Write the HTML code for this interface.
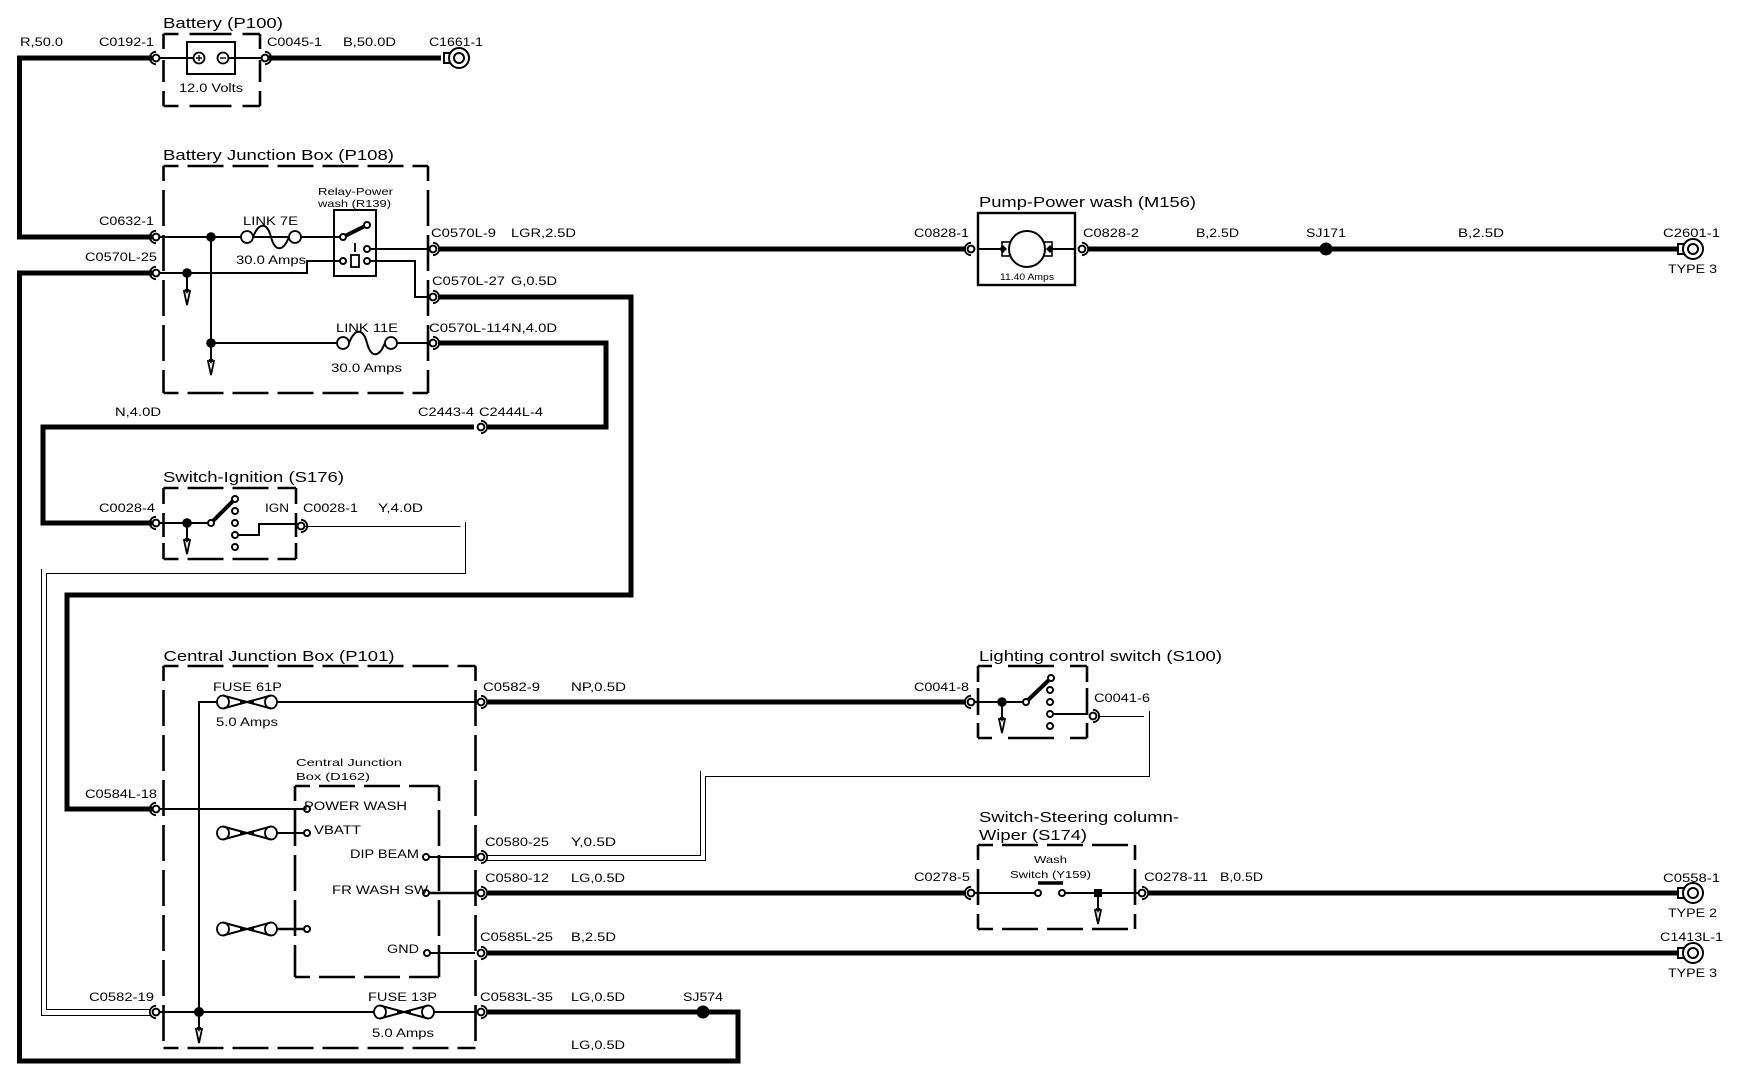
<!DOCTYPE html>
<html><head><meta charset="utf-8"><style>
html,body{margin:0;padding:0;background:#fff}
svg{display:block}
text{font-family:"Liberation Sans",sans-serif;fill:#000}
.t{font-size:14.5px}.s{font-size:11.5px}.m{font-size:10.5px}
.w{fill:none;stroke:#000;stroke-width:5;stroke-linejoin:miter}
.n{fill:none;stroke:#000;stroke-width:2}
.h{fill:none;stroke:#000;stroke-width:1;shape-rendering:crispEdges}
.d{fill:none;stroke:#000;stroke-width:2.6;stroke-dasharray:36 9;stroke-dashoffset:21}
.o{fill:#fff;stroke:#000;stroke-width:1.8}
</style></head><body>
<svg width="1750" height="1088" viewBox="0 0 1750 1088" xmlns="http://www.w3.org/2000/svg">
<defs>
<g id="cl"><path d="M0,-6.2A6.2 6.2 0 0 0 0,6.2" fill="none" stroke="#000" stroke-width="1.8"/><circle r="3.4" fill="#fff" stroke="#000" stroke-width="2"/></g>
<g id="cr"><path d="M0,-6.2A6.2 6.2 0 0 1 0,6.2" fill="none" stroke="#000" stroke-width="1.8"/><circle r="3.4" fill="#fff" stroke="#000" stroke-width="2"/></g>
<g id="ar"><path d="M-3,0L3,0L0,14Z" fill="#fff" stroke="#000" stroke-width="1.8"/><path d="M-2.5,-2L2.5,-2L0,3Z" fill="#000"/></g>
<g id="pin"><circle r="3" fill="#fff" stroke="#000" stroke-width="2"/></g>
<g id="link"><circle cx="-24" r="6" class="o"/><circle cx="24" r="6" class="o"/><path d="M-18,0C-12,-15 -4,-15 0,0C4,15 12,15 18,0" class="n"/></g>
<g id="fuse"><ellipse cx="-24" rx="6" ry="6.5" class="o"/><ellipse cx="24" rx="6" ry="6.5" class="o"/><path d="M-24,-6.5L0,0L-24,6.5M24,-6.5L0,0L24,6.5" class="n"/><path d="M-7,0H7" stroke="#000" stroke-width="2"/></g>
<g id="end"><rect x="-15" y="-5" width="5.5" height="10" fill="#fff" stroke="#000" stroke-width="2"/><circle r="10" fill="#fff" stroke="#000" stroke-width="2"/><circle r="5" fill="#fff" stroke="#000" stroke-width="2"/></g>
</defs>

<!-- thick wires -->
<path class="w" d="M152,58H19.5V237H152"/>
<path class="w" d="M268,58H441"/>
<path class="w" d="M152,273H19.5V1061H738V1012H488"/>
<path class="w" d="M438,249H966"/>
<path class="w" d="M1088,249H1678"/>
<path class="w" d="M438,297H631V595H67V809H152"/>
<path class="w" d="M438,343H606V427H488"/>
<path class="w" d="M474,427H43V523H152"/>
<path class="w" d="M488,702H966"/>
<path class="w" d="M488,893H966"/>
<path class="w" d="M1148,893H1680"/>
<path class="w" d="M488,953H1680"/>

<!-- thin double wires -->
<path class="h" d="M305,526.5H460.5"/>
<path class="h" d="M465.5,522V573.5H46.5V1009.5H150"/>
<path class="h" d="M41.5,569V1015.5H150"/>
<path class="h" d="M487,855.5H700.5V771"/>
<path class="h" d="M487,860.5H705.5V776.5H1149.5V711"/>
<path class="h" d="M1098,716.5H1144"/>

<!-- dashed boxes -->
<path class="d" style="stroke-dasharray:42 11;stroke-dashoffset:27" d="M163.5,34H260M163.5,106H260"/>
<path class="d" style="stroke-dasharray:15 11 22 9 15;stroke-dashoffset:0" d="M163.5,34V106M260,34V106"/>
<path class="d" d="M163.5,166H428M163.5,166V393M163.5,393H428M428,166V393"/>
<path class="d" d="M163.5,488H296M163.5,559H296"/>
<path class="d" style="stroke-dasharray:16 9 24 6 16;stroke-dashoffset:0" d="M163.5,488V559M296,488V559"/>
<path class="d" d="M163.5,666H475.5M163.5,666V1048M163.5,1048H475.5M475.5,666V1048"/>
<path class="d" d="M295,786H439M295,786V977M295,977H439M439,786V977"/>
<path class="d" style="stroke-dasharray:14 16 46 16 17;stroke-dashoffset:0" d="M978,666H1087M978,738H1087"/>
<path class="d" style="stroke-dasharray:16 6 27 8 15;stroke-dashoffset:0" d="M978,666V738M1087,666V738"/>
<path class="d" d="M978,845H1135M978,845V929M978,929H1135M1135,845V929"/>

<!-- battery -->
<rect x="187" y="42" width="48" height="32" fill="#fff" stroke="#000" stroke-width="2"/>
<path class="n" d="M160,58H193M229,58H262"/>
<circle cx="199" cy="58" r="5.5" class="o"/><path d="M196,58h6M199,55v6" stroke="#000" stroke-width="1.4"/>
<circle cx="223" cy="58" r="5.5" class="o"/><path d="M220,58h6" stroke="#000" stroke-width="1.4"/>
<use href="#cl" x="156" y="58"/><use href="#cr" x="265" y="58"/>
<use href="#end" x="459" y="58"/>

<!-- battery junction box internals -->
<path class="n" d="M160,237H343"/>
<path class="n" d="M160,273H307V261H343"/>
<path class="n" d="M211,237V360"/>
<path class="n" d="M187,273V292"/>
<path class="n" d="M211,343H343M391,343H428"/>
<path class="n" d="M367,249H428"/>
<path class="n" d="M367,261H415V297H428"/>
<circle cx="211" cy="237" r="4.8"/><circle cx="187" cy="273" r="4.8"/><circle cx="211" cy="343" r="4.8"/>
<use href="#ar" x="187" y="291"/><use href="#ar" x="211" y="361"/>
<use href="#link" x="271" y="237"/><use href="#link" x="367" y="343"/>
<rect x="334" y="210" width="42" height="66" fill="none" stroke="#000" stroke-width="2"/>
<path d="M343,237L367,225" stroke="#000" stroke-width="4"/>
<use href="#pin" x="343" y="237"/><use href="#pin" x="367" y="225"/>
<use href="#pin" x="367" y="249"/><use href="#pin" x="367" y="261"/><use href="#pin" x="343" y="261"/>
<path d="M355,243V252" stroke="#000" stroke-width="1.8"/>
<rect x="351" y="255" width="8" height="12" fill="#fff" stroke="#000" stroke-width="1.8"/>
<use href="#cl" x="156" y="237"/><use href="#cl" x="156" y="273"/>
<use href="#cr" x="433" y="249"/><use href="#cr" x="433" y="297"/><use href="#cr" x="433" y="343"/>
<use href="#cr" x="481" y="427"/>

<!-- ignition -->
<path class="n" d="M160,523H211"/>
<path class="n" d="M187,523V541"/>
<circle cx="187" cy="523" r="4.8"/>
<use href="#ar" x="187" y="540"/>
<path d="M211,523L235,499" stroke="#000" stroke-width="4"/>
<use href="#pin" x="211" y="523"/><use href="#pin" x="235" y="499"/><use href="#pin" x="235" y="511"/><use href="#pin" x="235" y="523"/><use href="#pin" x="235" y="535"/><use href="#pin" x="235" y="547"/>
<path class="n" d="M238,535H259V524H296"/>
<use href="#cl" x="156" y="523"/><use href="#cr" x="301" y="526"/>

<!-- central junction box -->
<path class="n" d="M199,1012V702H217"/>
<path class="n" d="M277,702H475"/>
<path class="n" d="M160,809H304"/>
<path class="n" d="M277,833H304"/>
<path class="n" d="M429,857H475"/>
<path class="n" d="M429,893H475" style="stroke-width:2.4"/>
<path class="n" d="M277,929H304" style="stroke-width:2.4"/>
<path class="n" d="M430,953H475"/>
<path class="n" d="M160,1012H374M433,1012H475"/>
<path class="n" d="M199,1012V1030"/>
<circle cx="199" cy="1012" r="5"/>
<use href="#ar" x="199" y="1029"/>
<use href="#fuse" x="247" y="702"/><use href="#fuse" x="247" y="833"/><use href="#fuse" x="247" y="929"/><use href="#fuse" x="404" y="1012"/>
<use href="#pin" x="307" y="809"/><use href="#pin" x="307" y="833"/><use href="#pin" x="307" y="929"/>
<use href="#pin" x="426" y="857"/><use href="#pin" x="426" y="893"/><use href="#pin" x="427" y="953"/>
<use href="#cl" x="156" y="809"/><use href="#cl" x="156" y="1012"/>
<use href="#cr" x="481" y="702"/><use href="#cr" x="481" y="857"/><use href="#cr" x="481" y="893"/><use href="#cr" x="481" y="953"/><use href="#cr" x="481" y="1012"/>
<circle cx="703" cy="1012" r="6.5"/>

<!-- pump -->
<rect x="978" y="213" width="97" height="72" fill="#fff" stroke="#000" stroke-width="2.4"/>
<path class="n" d="M978,249H1075"/>
<rect x="1002" y="242" width="8" height="14" fill="#fff" stroke="#000" stroke-width="1.6"/>
<rect x="1044" y="242" width="8" height="14" fill="#fff" stroke="#000" stroke-width="1.6"/>
<circle cx="1027" cy="249" r="18" fill="#fff" stroke="#000" stroke-width="2"/>
<path d="M999,249l4,-4l4,4l-4,4zM1046,249l4,-4l4,4l-4,4z"/>
<use href="#cl" x="971" y="249"/><use href="#cr" x="1082" y="249"/>
<circle cx="1326" cy="249" r="6.5"/>
<use href="#end" x="1693" y="249"/>

<!-- lighting switch -->
<path class="n" d="M975,702H1026"/>
<path class="n" d="M1002,702V720"/>
<circle cx="1002" cy="702" r="4.8"/>
<use href="#ar" x="1002" y="719"/>
<path d="M1026,702L1051,678" stroke="#000" stroke-width="4"/>
<use href="#pin" x="1026" y="702"/><use href="#pin" x="1051" y="678"/><use href="#pin" x="1050" y="690"/><use href="#pin" x="1050" y="702"/><use href="#pin" x="1050" y="714"/><use href="#pin" x="1050" y="726"/>
<path class="n" d="M1053,714H1087"/>
<use href="#cl" x="971" y="702"/><use href="#cr" x="1093" y="716"/>

<!-- steering switch -->
<path class="n" d="M975,893H1035M1065,893H1138"/>
<path class="n" d="M1098,893V911"/>
<rect x="1094" y="889" width="8" height="8"/>
<use href="#ar" x="1098" y="910"/>
<path d="M1038,883H1063" stroke="#000" stroke-width="3.6"/>
<use href="#pin" x="1038" y="893"/><use href="#pin" x="1062" y="893"/>
<use href="#cl" x="971" y="893"/><use href="#cr" x="1142" y="893"/>

<use href="#end" x="1693" y="893"/><use href="#end" x="1693" y="953"/>

<!-- titles -->
<text class="t" x="163" y="28" textLength="120" lengthAdjust="spacingAndGlyphs">Battery (P100)</text>
<text class="t" x="163" y="160" textLength="231" lengthAdjust="spacingAndGlyphs">Battery Junction Box (P108)</text>
<text class="t" x="163" y="482" textLength="181" lengthAdjust="spacingAndGlyphs">Switch-Ignition (S176)</text>
<text class="t" x="163.5" y="661" textLength="231" lengthAdjust="spacingAndGlyphs">Central Junction Box (P101)</text>
<text class="t" x="979" y="207" textLength="217" lengthAdjust="spacingAndGlyphs">Pump-Power wash (M156)</text>
<text class="t" x="979" y="661" textLength="243" lengthAdjust="spacingAndGlyphs">Lighting control switch (S100)</text>
<text class="t" x="979" y="822" textLength="200" lengthAdjust="spacingAndGlyphs">Switch-Steering column-</text>
<text class="t" x="979" y="840" textLength="108" lengthAdjust="spacingAndGlyphs">Wiper (S174)</text>

<!-- labels -->
<text class="s" x="20" y="46" textLength="43" lengthAdjust="spacingAndGlyphs">R,50.0</text>
<text class="s" x="99" y="46" textLength="55" lengthAdjust="spacingAndGlyphs">C0192-1</text>
<text class="s" x="267" y="46" textLength="55" lengthAdjust="spacingAndGlyphs">C0045-1</text>
<text class="s" x="343" y="46" textLength="53" lengthAdjust="spacingAndGlyphs">B,50.0D</text>
<text class="s" x="429" y="46" textLength="54" lengthAdjust="spacingAndGlyphs">C1661-1</text>
<text class="s" x="179" y="92" textLength="64" lengthAdjust="spacingAndGlyphs">12.0 Volts</text>
<text class="m" x="318" y="195" textLength="75" lengthAdjust="spacingAndGlyphs">Relay-Power</text>
<text class="m" x="318" y="207" textLength="73" lengthAdjust="spacingAndGlyphs">wash (R139)</text>
<text class="s" x="99" y="225" textLength="55" lengthAdjust="spacingAndGlyphs">C0632-1</text>
<text class="s" x="243" y="225" textLength="55" lengthAdjust="spacingAndGlyphs">LINK 7E</text>
<text class="s" x="85" y="261" textLength="72" lengthAdjust="spacingAndGlyphs">C0570L-25</text>
<text class="s" x="236" y="264" textLength="70" lengthAdjust="spacingAndGlyphs">30.0 Amps</text>
<text class="s" x="431" y="237" textLength="65" lengthAdjust="spacingAndGlyphs">C0570L-9</text>
<text class="s" x="511" y="237" textLength="65" lengthAdjust="spacingAndGlyphs">LGR,2.5D</text>
<text class="s" x="432" y="285" textLength="73" lengthAdjust="spacingAndGlyphs">C0570L-27</text>
<text class="s" x="511" y="285" textLength="46" lengthAdjust="spacingAndGlyphs">G,0.5D</text>
<text class="s" x="336" y="332" textLength="62" lengthAdjust="spacingAndGlyphs">LINK 11E</text>
<text class="s" x="429" y="332" textLength="81" lengthAdjust="spacingAndGlyphs">C0570L-114</text>
<text class="s" x="511" y="332" textLength="46" lengthAdjust="spacingAndGlyphs">N,4.0D</text>
<text class="s" x="331" y="372" textLength="71" lengthAdjust="spacingAndGlyphs">30.0 Amps</text>
<text class="s" x="115" y="416" textLength="46" lengthAdjust="spacingAndGlyphs">N,4.0D</text>
<text class="s" x="418" y="416" textLength="56" lengthAdjust="spacingAndGlyphs">C2443-4</text>
<text class="s" x="479" y="416" textLength="64" lengthAdjust="spacingAndGlyphs">C2444L-4</text>
<text class="s" x="99" y="512" textLength="56" lengthAdjust="spacingAndGlyphs">C0028-4</text>
<text class="s" x="265" y="512" textLength="24" lengthAdjust="spacingAndGlyphs">IGN</text>
<text class="s" x="303" y="512" textLength="55" lengthAdjust="spacingAndGlyphs">C0028-1</text>
<text class="s" x="378" y="512" textLength="45" lengthAdjust="spacingAndGlyphs">Y,4.0D</text>
<text class="s" x="213" y="691" textLength="69" lengthAdjust="spacingAndGlyphs">FUSE 61P</text>
<text class="s" x="483" y="691" textLength="57" lengthAdjust="spacingAndGlyphs">C0582-9</text>
<text class="s" x="571" y="691" textLength="55" lengthAdjust="spacingAndGlyphs">NP,0.5D</text>
<text class="s" x="216" y="726" textLength="62" lengthAdjust="spacingAndGlyphs">5.0 Amps</text>
<text class="m" x="296" y="766" textLength="106" lengthAdjust="spacingAndGlyphs">Central Junction</text>
<text class="m" x="296" y="780" textLength="74" lengthAdjust="spacingAndGlyphs">Box (D162)</text>
<text class="s" x="304" y="810" textLength="103" lengthAdjust="spacingAndGlyphs">POWER WASH</text>
<text class="s" x="314" y="834" textLength="47" lengthAdjust="spacingAndGlyphs">VBATT</text>
<text class="s" x="350" y="858" textLength="69" lengthAdjust="spacingAndGlyphs">DIP BEAM</text>
<text class="s" x="332" y="894" textLength="96" lengthAdjust="spacingAndGlyphs">FR WASH SW</text>
<text class="s" x="387" y="953" textLength="32" lengthAdjust="spacingAndGlyphs">GND</text>
<text class="s" x="85" y="798" textLength="72" lengthAdjust="spacingAndGlyphs">C0584L-18</text>
<text class="s" x="485" y="846" textLength="64" lengthAdjust="spacingAndGlyphs">C0580-25</text>
<text class="s" x="571" y="846" textLength="45" lengthAdjust="spacingAndGlyphs">Y,0.5D</text>
<text class="s" x="485" y="882" textLength="64" lengthAdjust="spacingAndGlyphs">C0580-12</text>
<text class="s" x="571" y="882" textLength="54" lengthAdjust="spacingAndGlyphs">LG,0.5D</text>
<text class="s" x="480" y="941" textLength="73" lengthAdjust="spacingAndGlyphs">C0585L-25</text>
<text class="s" x="571" y="941" textLength="45" lengthAdjust="spacingAndGlyphs">B,2.5D</text>
<text class="s" x="89" y="1001" textLength="65" lengthAdjust="spacingAndGlyphs">C0582-19</text>
<text class="s" x="368" y="1001" textLength="69" lengthAdjust="spacingAndGlyphs">FUSE 13P</text>
<text class="s" x="480" y="1001" textLength="73" lengthAdjust="spacingAndGlyphs">C0583L-35</text>
<text class="s" x="571" y="1001" textLength="54" lengthAdjust="spacingAndGlyphs">LG,0.5D</text>
<text class="s" x="683" y="1001" textLength="40" lengthAdjust="spacingAndGlyphs">SJ574</text>
<text class="s" x="372" y="1037" textLength="62" lengthAdjust="spacingAndGlyphs">5.0 Amps</text>
<text class="s" x="571" y="1049" textLength="54" lengthAdjust="spacingAndGlyphs">LG,0.5D</text>
<text class="s" x="914" y="237" textLength="55" lengthAdjust="spacingAndGlyphs">C0828-1</text>
<text class="s" x="1083" y="237" textLength="56" lengthAdjust="spacingAndGlyphs">C0828-2</text>
<text class="s" x="1196" y="237" textLength="43" lengthAdjust="spacingAndGlyphs">B,2.5D</text>
<text class="s" x="1306" y="237" textLength="40" lengthAdjust="spacingAndGlyphs">SJ171</text>
<text class="s" x="1458" y="237" textLength="46" lengthAdjust="spacingAndGlyphs">B,2.5D</text>
<text class="s" x="1663" y="237" textLength="57" lengthAdjust="spacingAndGlyphs">C2601-1</text>
<text class="s" x="1668" y="273" textLength="49" lengthAdjust="spacingAndGlyphs">TYPE 3</text>
<text x="1000" y="280" style="font-size:9.5px" textLength="54" lengthAdjust="spacingAndGlyphs">11.40 Amps</text>
<text class="s" x="914" y="691" textLength="55" lengthAdjust="spacingAndGlyphs">C0041-8</text>
<text class="s" x="1094" y="702" textLength="56" lengthAdjust="spacingAndGlyphs">C0041-6</text>
<text class="s" x="914" y="881" textLength="56" lengthAdjust="spacingAndGlyphs">C0278-5</text>
<text class="s" x="1144" y="881" textLength="64" lengthAdjust="spacingAndGlyphs">C0278-11</text>
<text class="s" x="1220" y="881" textLength="43" lengthAdjust="spacingAndGlyphs">B,0.5D</text>
<text class="m" x="1034" y="863" textLength="33" lengthAdjust="spacingAndGlyphs">Wash</text>
<text class="m" x="1010" y="878" textLength="81" lengthAdjust="spacingAndGlyphs">Switch (Y159)</text>
<text class="s" x="1663" y="882" textLength="57" lengthAdjust="spacingAndGlyphs">C0558-1</text>
<text class="s" x="1668" y="917" textLength="49" lengthAdjust="spacingAndGlyphs">TYPE 2</text>
<text class="s" x="1660" y="941" textLength="63" lengthAdjust="spacingAndGlyphs">C1413L-1</text>
<text class="s" x="1668" y="977" textLength="49" lengthAdjust="spacingAndGlyphs">TYPE 3</text>
</svg>
</body></html>
